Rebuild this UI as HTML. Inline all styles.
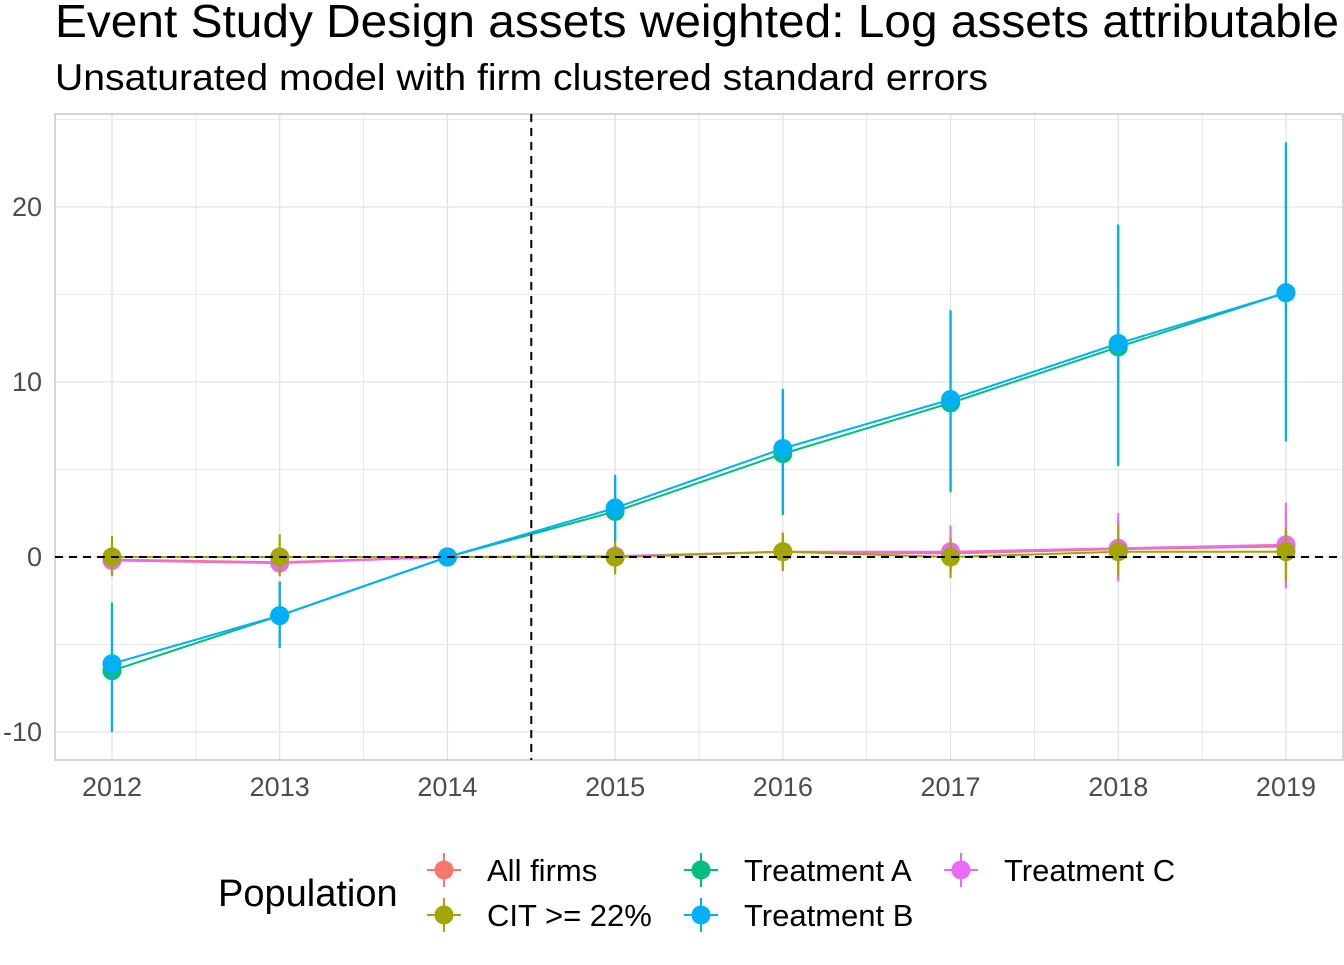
<!DOCTYPE html>
<html><head><meta charset="utf-8"><style>
body{margin:0;background:#fff;font-family:"Liberation Sans",Arial,sans-serif}
svg text{font-family:"Liberation Sans",Arial,sans-serif}
</style></head><body>
<svg id="chart" width="1344" height="960">
<text x="55" y="37" font-size="46" textLength="1284" lengthAdjust="spacingAndGlyphs" fill="#000">Event Study Design assets weighted: Log assets attributable</text>
<text x="55" y="90" font-size="37" textLength="933" lengthAdjust="spacingAndGlyphs" fill="#000">Unsaturated model with firm clustered standard errors</text>
<g id="grid"></g><g id="marks"></g><g id="axes"></g>
<g>
<text x="218" y="906" font-size="38" fill="#000">Population</text>
<g id="legend"></g>
</g>
</svg>
<script>
const years=[2012,2013,2014,2015,2016,2017,2018,2019];
const xTicks=[2012,2013,2014,2015,2016,2017,2018,2019];
const yTicks=[-10,0,10,20];
const seriesNames=["All firms","CIT >= 22%","Treatment A","Treatment B","Treatment C"];
const colors=["#F8766D","#A3A500","#00BF7D","#00B0F6","#E76BF3"];
const allFirms=[-0.15,-0.3,0,0,0.3,0.2,0.45,0.6];
const allLo=[-0.9,-0.9,0,-0.6,-0.6,-0.9,-1.2,-1.4];
const allHi=[0.6,0.3,0,0.6,1.2,1.3,2.1,2.6];
const cit=[0,0,0,0,0.3,0,0.3,0.3];
const citLo=[-1.1,-1.1,0,-1.0,-0.8,-1.2,-1.1,-1.4];
const citHi=[1.2,1.3,0,1.1,1.4,1.1,1.8,1.7];
const trA=[-6.5,-3.35,0,2.6,5.9,8.8,12.0,15.1];
const trALo=[-10,-5.2,0,0.9,2.4,3.7,5.2,6.6];
const trAHi=[-2.8,-1.4,0,4.5,9.4,14.0,18.9,23.6];
const trB=[-6.1,-3.35,0,2.8,6.2,9.0,12.2,15.1];
const trBLo=[-9.8,-5.2,0,1.0,2.6,3.8,5.3,6.6];
const trBHi=[-2.6,-1.4,0,4.7,9.6,14.1,19.0,23.7];
const trC=[-0.2,-0.35,0,0.05,0.3,0.3,0.5,0.7];
const trCLo=[-1.1,-1.0,0,-0.7,-0.7,-0.8,-1.4,-1.8];
const trCHi=[0.7,0.4,0,0.8,1.4,1.8,2.5,3.1];
const vals=[allFirms,cit,trA,trB,trC], los=[allLo,citLo,trALo,trBLo,trCLo], his=[allHi,citHi,trAHi,trBHi,trCHi];
const drawOrder=[0,4,1,2,3];
const X=y=>112+(y-2012)*167.71, Y=v=>557-v*17.5;
const NS="http://www.w3.org/2000/svg";
function mk(t,a,p){const e=document.createElementNS(NS,t);for(const k in a)e.setAttribute(k,a[k]);p.appendChild(e);return e;}
const grid=document.getElementById('grid'),marks=document.getElementById('marks'),axes=document.getElementById('axes');
const L=55,R=1343,T=114,B=760;
for(let v=-10;v<=25;v+=5){const y=Y(v);if(y<T||y>B)continue;const g=mk('line',{x1:L,x2:R,y1:y,y2:y,stroke:'#e3e3e3','stroke-width':v%10===0?1.3:0.8},grid);

}
for(let yr=2011.5;yr<=2019.6;yr+=0.5){const x=X(yr);if(x<L||x>R)continue;const g=mk('line',{x1:x,x2:x,y1:T,y2:B,stroke:'#e3e3e3','stroke-width':Number.isInteger(yr)?1.3:0.8},grid);

}
const bd=mk('rect',{x:L,y:T,width:R-L,height:B-T,fill:'none',stroke:'#c0c0c0','stroke-width':1.3},grid);


xTicks.forEach(t=>{const e=mk('text',{x:X(t),y:796,'font-size':27,fill:'#4d4d4d','text-anchor':'middle'},axes);e.textContent=t;

});
yTicks.forEach(t=>{const e=mk('text',{x:42,y:Y(t)+9,'font-size':27,fill:'#4d4d4d','text-anchor':'end'},axes);e.textContent=t;

});
drawOrder.forEach(i=>{
 const s=vals[i];
 const c=colors[i];
 s.forEach((v,j)=>{const l=mk('line',{x1:X(years[j]),x2:X(years[j]),y1:Y(los[i][j]),y2:Y(his[i][j]),stroke:c,'stroke-width':2.2},marks);
 
 });
 const p=mk('polyline',{points:s.map((v,j)=>X(years[j])+','+Y(v)).join(' '),fill:'none',stroke:c,'stroke-width':2},marks);
 
 
 s.forEach((v,j)=>{const d=mk('circle',{cx:X(years[j]),cy:Y(v),r:9.5,fill:c},marks);
 
 });
});
const h0=mk('line',{x1:L,x2:R,y1:Y(0),y2:Y(0),stroke:'#000','stroke-width':2,'stroke-dasharray':'8,6'},marks);


const v0=mk('line',{x1:X(2014.5),x2:X(2014.5),y1:T,y2:B,stroke:'#000','stroke-width':2,'stroke-dasharray':'8,6'},marks);


const lg=document.getElementById('legend');
const pos=[[444,870],[444,915],[701,870],[701,915],[961,870]];
seriesNames.forEach((n,i)=>{const [x,y]=pos[i];const g=mk('g',{},lg);


mk('line',{x1:x,x2:x,y1:y-17,y2:y+17,stroke:colors[i],'stroke-width':2},g);
mk('line',{x1:x-17,x2:x+17,y1:y,y2:y,stroke:colors[i],'stroke-width':2},g);
mk('circle',{cx:x,cy:y,r:9.5,fill:colors[i]},g);
const t=mk('text',{x:x+43,y:y+11,'font-size':31,fill:'#000'},g);t.textContent=n;});
</script>
</body></html>
